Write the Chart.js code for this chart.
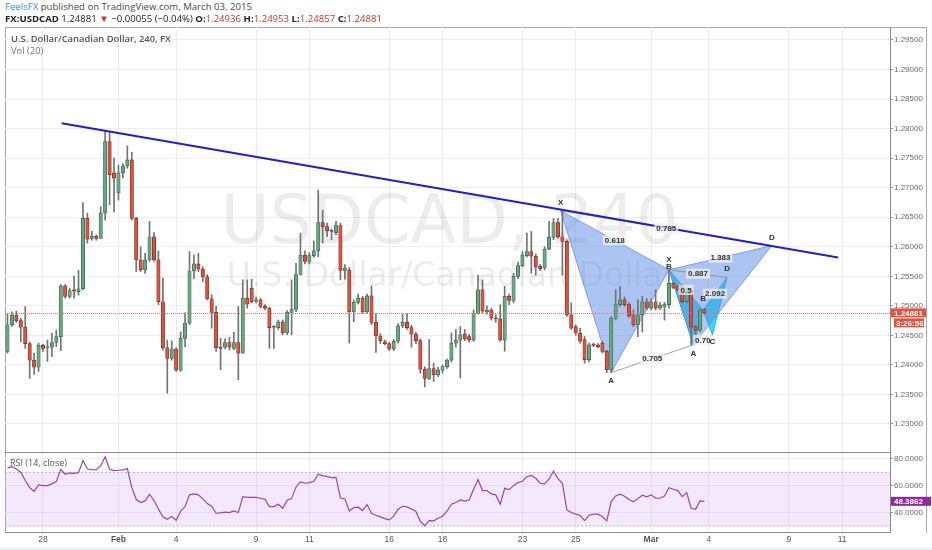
<!DOCTYPE html>
<html><head><meta charset="utf-8">
<script src="https://cdn.jsdelivr.net/npm/chart.js@4.4.0/dist/chart.umd.min.js"></script>
<style>
body{margin:0;width:932px;height:550px;background:#fff;position:relative;overflow:hidden;font-family:'Open Sans',sans-serif}
.t{position:absolute;white-space:nowrap;z-index:5}
#frame{position:absolute;left:5px;top:27px;width:922px;height:506px;box-sizing:border-box;border:1px solid #a8a8a8;border-bottom:none}
#sep{position:absolute;left:5px;top:452px;width:885px;height:1px;background:#8c8c8c;z-index:4}
#c1{position:absolute;left:0;top:27px;z-index:2}
#c2{position:absolute;left:0;top:452px;z-index:2}
#strip{position:absolute;left:0;top:547px;width:932px;height:3px;background:#eef1f4}
.r{color:#c0392b}
</style></head><body>
<div id="frame"></div>
<div id="strip"></div>
<canvas id="c1" width="932" height="425"></canvas>
<canvas id="c2" width="932" height="98"></canvas>
<div id="sep"></div>
<div class="t" style="left:5px;top:0px;font-size:9.6px;line-height:13px;color:#4a4a4a"><span style="color:#2f8fd8">FeelsFX</span> published on TradingView.com, March 03, 2015</div>
<div class="t" id="hdr2" style="left:5px;top:12px;font-size:9.6px;line-height:13px;color:#222"></div>
<div class="t" style="left:11px;top:33px;font-size:9.4px;line-height:12px;color:#555;font-weight:600">U.S. Dollar/Canadian Dollar, 240, FX</div>
<div class="t" style="left:11px;top:45px;font-size:9.4px;line-height:12px;color:#777">Vol (20)</div>
<div class="t" style="left:10px;top:457px;font-size:9px;line-height:12px;color:#555">RSI (14, close)</div>
<script>
// ---- data (4h candles, index 0 = Jan 26 20:00 bar ... index 157 = Mar 3 20:00 bar) ----
const opens = [
1.2423,1.2468,1.2484,1.2475,1.2464,1.2436,1.2408,1.2396,1.2433,1.2429,
1.2430,1.2438,1.2448,1.2534,1.2516,1.2527,1.2524,1.2529,1.2648,1.2614,
1.2618,1.2614,1.2657,1.2778,1.2725,1.2691,1.2725,1.2737,1.2747,1.2648,
1.2578,1.2561,1.2578,1.2617,1.2578,1.2507,1.2429,1.2411,1.2427,1.2391,
1.2445,1.2471,1.2559,1.2571,1.2562,1.2549,1.2512,1.2489,1.2430,1.2430,
1.2438,1.2428,1.2438,1.2420,1.2513,1.2530,1.2508,1.2510,1.2499,1.2496,
1.2465,1.2463,1.2473,1.2454,1.2489,1.2494,1.2553,1.2586,1.2575,1.2585,
1.2593,1.2641,1.2634,1.2627,1.2624,1.2636,1.2560,1.2561,1.2490,1.2506,
1.2513,1.2490,1.2517,1.2472,1.2449,1.2439,1.2436,1.2427,1.2440,1.2466,
1.2472,1.2463,1.2452,1.2441,1.2393,1.2377,1.2394,1.2383,1.2391,1.2397,
1.2408,1.2437,1.2442,1.2452,1.2448,1.2442,1.2487,1.2527,1.2490,1.2493,
1.2479,1.2478,1.2442,1.2516,1.2509,1.2550,1.2568,1.2585,1.2592,1.2584,
1.2567,1.2564,1.2596,1.2616,1.2641,1.2617,1.2609,1.2485,1.2465,1.2454,
1.2443,1.2409,1.2435,1.2434,1.2437,1.2423,1.2392,1.2479,1.2502,1.2510,
1.2502,1.2485,1.2468,1.2485,1.2507,1.2496,1.2507,1.2496,1.2498,1.2502,
1.2538,1.2533,1.2533,1.2507,1.2527,1.2465,1.2459,1.24936];
const highs = [
1.2487,1.2490,1.2491,1.2479,1.2499,1.2439,1.2420,1.2437,1.2435,1.2442,
1.2454,1.2459,1.2536,1.2536,1.2530,1.2551,1.2560,1.2675,1.2657,1.2626,
1.2620,1.2668,1.2795,1.2795,1.2750,1.2738,1.2741,1.2771,1.2760,1.2650,
1.2600,1.2589,1.2643,1.2624,1.2593,1.2547,1.2442,1.2441,1.2429,1.2456,
1.2488,1.2592,1.2586,1.2589,1.2566,1.2553,1.2519,1.2499,1.2445,1.2444,
1.2447,1.2455,1.2499,1.2544,1.2544,1.2545,1.2515,1.2513,1.2502,1.2498,
1.2466,1.2476,1.2476,1.2492,1.2544,1.2572,1.2623,1.2593,1.2590,1.2610,
1.2696,1.2662,1.2640,1.2630,1.2643,1.2640,1.2570,1.2565,1.2510,1.2520,
1.2516,1.2520,1.2534,1.2487,1.2453,1.2442,1.2438,1.2443,1.2470,1.2486,
1.2487,1.2467,1.2455,1.2444,1.2397,1.2443,1.2403,1.2396,1.2400,1.2410,
1.2454,1.2460,1.2465,1.2460,1.2452,1.2493,1.2552,1.2544,1.2500,1.2496,
1.2485,1.2502,1.2533,1.2520,1.2555,1.2574,1.2592,1.2623,1.2626,1.2588,
1.2570,1.2600,1.2643,1.2648,1.2648,1.2661,1.2612,1.2505,1.2468,1.2462,
1.2448,1.2437,1.2437,1.2436,1.2440,1.2425,1.2482,1.2527,1.2533,1.2515,
1.2505,1.2493,1.2510,1.2516,1.2512,1.2512,1.2527,1.2506,1.2506,1.2561,
1.2540,1.2535,1.2536,1.2530,1.2530,1.2467,1.2496,1.24953];
const lows = [
1.2420,1.2465,1.2472,1.2439,1.2428,1.2377,1.2384,1.2389,1.2423,1.2406,
1.2414,1.2431,1.2424,1.2513,1.2513,1.2513,1.2518,1.2527,1.2606,1.2611,
1.2611,1.2614,1.2645,1.2671,1.2659,1.2679,1.2716,1.2733,1.2645,1.2558,
1.2558,1.2555,1.2575,1.2575,1.2502,1.2425,1.2352,1.2408,1.2389,1.2389,
1.2431,1.2468,1.2546,1.2558,1.2541,1.2510,1.2462,1.2423,1.2392,1.2427,
1.2425,1.2426,1.2375,1.2420,1.2496,1.2505,1.2505,1.2496,1.2493,1.2428,
1.2428,1.2460,1.2451,1.2451,1.2451,1.2490,1.2552,1.2571,1.2571,1.2582,
1.2583,1.2606,1.2617,1.2612,1.2620,1.2544,1.2545,1.2437,1.2473,1.2503,
1.2487,1.2487,1.2468,1.2421,1.2436,1.2434,1.2424,1.2424,1.2437,1.2463,
1.2460,1.2430,1.2436,1.2386,1.2363,1.2375,1.2372,1.2380,1.2386,1.2394,
1.2405,1.2430,1.2378,1.2441,1.2438,1.2440,1.2486,1.2488,1.2486,1.2476,
1.2472,1.2440,1.2423,1.2502,1.2505,1.2546,1.2566,1.2583,1.2555,1.2552,
1.2560,1.2561,1.2595,1.2612,1.2614,1.2552,1.2482,1.2460,1.2450,1.2437,
1.2403,1.2405,1.2431,1.2429,1.2420,1.2387,1.2387,1.2476,1.2499,1.2499,
1.2480,1.2465,1.2448,1.2456,1.2493,1.2493,1.2493,1.2494,1.2476,1.2496,
1.2529,1.2524,1.2505,1.2505,1.2434,1.2450,1.2456,1.24857];
const closes = [
1.2468,1.2484,1.2475,1.2464,1.2436,1.2408,1.2396,1.2433,1.2428,1.2430,
1.2438,1.2448,1.2534,1.2516,1.2526,1.2525,1.2529,1.2648,1.2613,1.2618,
1.2614,1.2657,1.2778,1.2722,1.2716,1.2725,1.2737,1.2747,1.2648,1.2578,
1.2561,1.2578,1.2617,1.2578,1.2507,1.2429,1.2411,1.2427,1.2391,1.2445,
1.2471,1.2559,1.2571,1.2562,1.2549,1.2512,1.2489,1.2429,1.2428,1.2438,
1.2430,1.2438,1.2420,1.2513,1.2503,1.2507,1.2510,1.2499,1.2496,1.2463,
1.2464,1.2473,1.2454,1.2489,1.2494,1.2553,1.2586,1.2575,1.2585,1.2593,
1.2641,1.2634,1.2627,1.2626,1.2636,1.2560,1.2564,1.2490,1.2506,1.2513,
1.2490,1.2517,1.2472,1.2449,1.2441,1.2436,1.2427,1.2440,1.2466,1.2472,
1.2463,1.2452,1.2441,1.2393,1.2377,1.2394,1.2383,1.2391,1.2397,1.2408,
1.2437,1.2442,1.2451,1.2444,1.2442,1.2487,1.2527,1.2491,1.2493,1.2479,
1.2478,1.2442,1.2516,1.2509,1.2550,1.2568,1.2586,1.2592,1.2584,1.2566,
1.2563,1.2596,1.2616,1.2641,1.2617,1.2609,1.2485,1.2462,1.2454,1.2440,
1.2409,1.2434,1.2433,1.2431,1.2423,1.2392,1.2479,1.2502,1.2510,1.2502,
1.2483,1.2468,1.2485,1.2507,1.2496,1.2507,1.2496,1.2501,1.2503,1.2538,
1.2531,1.2527,1.2507,1.2527,1.2464,1.2459,1.2493,1.24881];
const rsi = [
73.3,74.3,72.5,70.1,63.9,58.6,55.9,60.6,60.1,60.1,
61.4,63.1,72.3,68.6,69.6,69.3,69.8,78.8,72.5,72.1,
71.8,75.0,81.7,72.3,71.3,71.6,71.8,72.8,58.6,49.9,
47.5,48.7,53.7,49.0,42.7,36.8,35.0,37.0,34.3,41.0,
44.5,53.2,53.9,53.2,50.2,46.7,44.7,39.5,39.8,40.3,
40.0,41.2,40.0,51.9,51.4,51.4,51.4,50.7,49.9,44.5,
44.5,46.2,43.2,49.2,50.4,59.1,62.9,61.9,62.4,63.4,
68.6,67.6,66.8,66.1,66.3,50.9,50.2,41.2,43.7,44.0,
41.5,46.0,39.5,38.0,36.8,35.5,34.5,37.3,42.5,44.7,
44.2,42.7,40.8,33.5,30.3,34.0,33.8,35.8,37.3,41.0,
46.2,47.5,49.4,48.5,49.4,57.4,64.6,56.4,56.4,53.9,
53.2,46.2,58.1,57.1,60.1,62.4,63.4,66.8,67.8,65.6,
61.9,61.4,65.1,70.8,65.3,61.9,42.0,40.0,38.8,37.8,
34.0,38.0,38.8,38.8,37.0,33.8,48.2,52.4,53.7,52.2,
49.7,48.0,50.4,52.9,51.7,53.2,50.7,50.7,52.4,58.6,
57.4,56.4,51.9,54.9,43.2,42.5,48.7,48.3862];
const dateTickIdx = [8,25,38,56,68,86,98,116,128,145,158,176,188];
const dateTickLabels = ['28','Feb','4','9','11','16','18','23','25','Mar','4','9','11'];
const boldLabels = ['Feb','Mar'];
const priceTicks = [1.230,1.235,1.240,1.245,1.250,1.255,1.260,1.265,1.270,1.275,1.280,1.285,1.290,1.295];
const rsiTicks = [40,60,80];
const rsiBands = [70,30];
const trendX = [12.2,187.1];
const trendY = [1.2809,1.2582];
// harmonic patterns: vertices X, A, B, C, D
const bigPatX = [124.6,136.0,149.0,154.5,172.2];
const bigPatY = [1.2661,1.2387,1.2561,1.2434,1.2602];
const bigLetters = ['X','A','B','','D'];
const bigRatios = ['0.618','0.705','1.383','0.785']; // XB, AC, BD, XD
const smallPatX = [149.0,154.5,156.7,158.8,162.1];
const smallPatY = [1.2561,1.2434,1.2493,1.2451,1.2548];
const smallLetters = ['X','A','B','C','D'];
const smallRatios = ['0.5','0.70','2.092','0.887'];
const countdown = '3:26:56';
const header = {sym:'FX:USDCAD', chg:'\u22120.00055 (\u22120.04%)'};

// ---- styles ----
const N = closes.length;
const xMin = -0.56, xMax = 198.8;
const UP='#6ba583', UPB='#2f6a48', DN='#d75442', DNB='#7a2a1e', WICK='#737375';
const idx = closes.map((_,i)=>i);
const FONT = "'Liberation Sans', Arial, sans-serif";
const labelOf = v => { const k = dateTickIdx.indexOf(v); return k>=0 ? dateTickLabels[k] : ''; };

document.getElementById('hdr2').innerHTML =
  `<b>${header.sym}</b> ${closes[N-1].toFixed(5)} <span class="r">\u25BC</span> ${header.chg} `+
  `<b>O:</b><span class="r">${opens[N-1].toFixed(5)}</span> <b>H:</b><span class="r">${highs[N-1].toFixed(5)}</span> `+
  `<b>L:</b><span class="r">${lows[N-1].toFixed(5)}</span> <b>C:</b><span class="r">${closes[N-1].toFixed(5)}</span>`;

function pts(xs, ys, order){ return order.map(k=>({x:xs[k], y:ys[k]})); }
function tri(xs, ys, o, col){
  return {type:'line', data:pts(xs,ys,o), fill:'shape', backgroundColor:col.fill, borderColor:col.line,
    borderWidth:1, pointRadius:0, tension:0, order:8};
}
function thin(xs, ys, o){
  return {type:'line', data:pts(xs,ys,o), borderColor:'rgba(140,140,140,0.8)', borderWidth:1,
    pointRadius:0, fill:false, order:7};
}
const BLUE = {fill:'rgba(96,142,228,0.52)', line:'rgba(96,142,228,0.75)'};
const CYAN = {fill:'rgba(10,205,235,0.78)', line:'rgba(10,190,225,0.95)'};

const watermark = {id:'wm', beforeDatasetsDraw(chart){
  const {ctx, chartArea:a} = chart;
  ctx.save(); ctx.fillStyle='rgba(0,0,0,0.075)'; ctx.textAlign='center'; ctx.textBaseline='alphabetic';
  const cx=(a.left+a.right)/2;
  ctx.font='67px "DejaVu Sans"'; ctx.fillText('USDCAD, 240', cx+2, a.top+216);
  ctx.font='33px "DejaVu Sans"'; ctx.fillText('U.S. Dollar/Canadian Dollar', cx+4, a.top+259);
  ctx.restore();
}};

function boxText(ctx, t, x, y, bg){
  ctx.font = `bold 8px ${FONT}`;
  const w = ctx.measureText(t).width;
  if (bg){ ctx.fillStyle = bg; ctx.fillRect(x-w/2-2, y-5, w+4, 10); }
  ctx.fillStyle = '#333'; ctx.textAlign='center'; ctx.textBaseline='middle';
  ctx.fillText(t, x, y+0.5);
}
const bigOff = [-8,8,-4,0,-8];
const smallOff = [-11,8,-12,7,-9];
const segs = [[0,2],[1,3],[2,4],[0,4]];

const overlay = {id:'ov', afterDatasetsDraw(chart){
  const {ctx, chartArea:a, scales:{x, y}} = chart;
  ctx.save();
  const py = Math.round(y.getPixelForValue(closes[N-1]))+0.5;
  ctx.strokeStyle='#f2705f'; ctx.lineWidth=1; ctx.setLineDash([1,1]);
  ctx.beginPath(); ctx.moveTo(a.left, py); ctx.lineTo(a.right, py); ctx.stroke();
  ctx.setLineDash([]);
  const pats = [[bigPatX,bigPatY,bigLetters,bigOff,bigRatios],[smallPatX,smallPatY,smallLetters,smallOff,smallRatios]];
  for (const [px_, py_, L, off, R] of pats){
    segs.forEach((s,k)=>{
      const mx = x.getPixelForValue((px_[s[0]]+px_[s[1]])/2);
      const my = y.getPixelForValue((py_[s[0]]+py_[s[1]])/2);
      boxText(ctx, R[k], mx, my, 'rgba(240,240,240,0.75)');
    });
  }
  for (const [px_, py_, L, off] of pats){
    L.forEach((t,k)=>{ if(!t) return;
      boxText(ctx, t, x.getPixelForValue(px_[k]), y.getPixelForValue(py_[k])+off[k], null);
    });
  }
  ctx.restore();
}, afterDraw(chart){
  const {ctx, chartArea:a, scales:{y}} = chart;
  const py = y.getPixelForValue(closes[N-1]);
  ctx.save();
  ctx.fillStyle='#e2533f'; ctx.fillRect(a.right+1, py-4.5, 35, 9);
  ctx.fillStyle='#e2533f'; ctx.fillRect(a.right+4, py+5.5, 30, 9);
  ctx.fillStyle='#fff'; ctx.font=`bold 8px ${FONT}`; ctx.textAlign='left'; ctx.textBaseline='middle';
  ctx.fillText(closes[N-1].toFixed(5), a.right+4, py+0.5);
  ctx.fillText(countdown, a.right+6, py+10.5);
  ctx.restore();
}};

const yFit = a => { a.width = 37; a.paddingTop = 0; a.paddingBottom = 0; };

new Chart(document.getElementById('c1'), {
  type:'bar',
  data:{datasets:[
    {type:'line', data:trendX.map((v,i)=>({x:v, y:trendY[i]})), borderColor:'#2020c6', borderWidth:2, pointRadius:0, fill:false, order:1},
    {type:'bar', data:idx.map(i=>({x:i, y:[opens[i], closes[i]]})),
      backgroundColor:idx.map(i=>closes[i]>=opens[i]?UP:DN), borderColor:idx.map(i=>closes[i]>=opens[i]?UPB:DNB),
      borderWidth:0.7, borderSkipped:false, barThickness:3.4, minBarLength:1, grouped:false, order:3},
    {type:'bar', data:idx.map(i=>({x:i, y:[lows[i], highs[i]]})), backgroundColor:WICK, barThickness:1, grouped:false, order:4},
    thin(bigPatX,bigPatY,[1,3]), thin(bigPatX,bigPatY,[0,4]),
    thin(smallPatX,smallPatY,[1,3]), thin(smallPatX,smallPatY,[0,4]),
    tri(bigPatX,bigPatY,[0,1,2,0],BLUE), tri(bigPatX,bigPatY,[2,3,4,2],BLUE),
    tri(smallPatX,smallPatY,[0,1,2,0],CYAN), tri(smallPatX,smallPatY,[2,3,4,2],CYAN)
  ]},
  options:{
    responsive:false, animation:false, events:[],
    layout:{padding:{left:5,right:5,top:0,bottom:0}},
    plugins:{legend:{display:false}, tooltip:{enabled:false}},
    scales:{
      x:{type:'linear', min:xMin, max:xMax, offset:false,
        afterBuildTicks:s=>{ s.ticks = dateTickIdx.map(v=>({value:v})); },
        afterFit:s=>{ s.height=0; s.paddingLeft=0; s.paddingRight=0; },
        ticks:{display:false}, grid:{color:'#ebebeb', drawTicks:false, offset:false}, border:{display:false}},
      y:{type:'linear', position:'right', min:1.22526, max:1.29720,
        afterBuildTicks:s=>{ s.ticks = priceTicks.map(v=>({value:v})); },
        afterFit:yFit,
        ticks:{callback:v=>v.toFixed(5), color:'#6a6a6a', font:{family:FONT, size:8}, padding:1},
        grid:{color:'#eeeeee', tickColor:'#999', tickLength:3}, border:{color:'#8c8c8c'}}
    }
  },
  plugins:[watermark, overlay]
});

const rsiTag = {id:'rt', afterDraw(chart){
  const {ctx, chartArea:a, scales:{y}} = chart;
  const py = y.getPixelForValue(rsi[N-1]);
  ctx.save(); ctx.fillStyle='#8e2a9c'; ctx.fillRect(a.right+1, py-4.5, 40, 9);
  ctx.fillStyle='#fff'; ctx.font=`bold 8px ${FONT}`; ctx.textBaseline='middle'; ctx.textAlign='left';
  ctx.fillText(rsi[N-1].toFixed(4), a.right+4, py+0.5); ctx.restore();
}};

new Chart(document.getElementById('c2'), {
  type:'line',
  data:{datasets:[
    {data:rsi.map((v,i)=>({x:i, y:v})), borderColor:'#9a45b0', borderWidth:1.2, pointRadius:0, fill:false, tension:0, order:1},
    {data:[{x:xMin,y:rsiBands[0]},{x:xMax,y:rsiBands[0]}], borderColor:'#b5b5b5', borderWidth:1, borderDash:[2,2], pointRadius:0, fill:false, order:3},
    {data:[{x:xMin,y:rsiBands[1]},{x:xMax,y:rsiBands[1]}], borderColor:'#b5b5b5', borderWidth:1, borderDash:[2,2], pointRadius:0, fill:'-1', backgroundColor:'rgba(205,150,240,0.22)', order:2}
  ]},
  options:{
    responsive:false, animation:false, events:[],
    layout:{padding:{left:5,right:5,top:0,bottom:0}},
    plugins:{legend:{display:false}, tooltip:{enabled:false}},
    scales:{
      x:{type:'linear', min:xMin, max:xMax, offset:false,
        afterBuildTicks:s=>{ s.ticks = dateTickIdx.map(v=>({value:v})); },
        afterFit:s=>{ s.height=18; s.paddingLeft=0; s.paddingRight=0; },
        ticks:{autoSkip:false, maxRotation:0, padding:3, color:'#555', callback:v=>labelOf(v),
          font:c=>({family:FONT, size:8.5, weight: boldLabels.includes(labelOf(c.tick ? c.tick.value : -1)) ? 'bold':'normal'})},
        grid:{color:'#ebebeb', drawTicks:false}, border:{color:'#8c8c8c'}},
      y:{type:'linear', position:'right', min:25.5, max:85.2,
        afterBuildTicks:s=>{ s.ticks = rsiTicks.map(v=>({value:v})); },
        afterFit:yFit,
        ticks:{callback:v=>v.toFixed(4), color:'#6a6a6a', font:{family:FONT, size:8}, padding:1},
        grid:{color:'#eeeeee', tickColor:'#999', tickLength:3}, border:{color:'#8c8c8c'}}
    }
  },
  plugins:[rsiTag]
});
</script>
</body></html>
